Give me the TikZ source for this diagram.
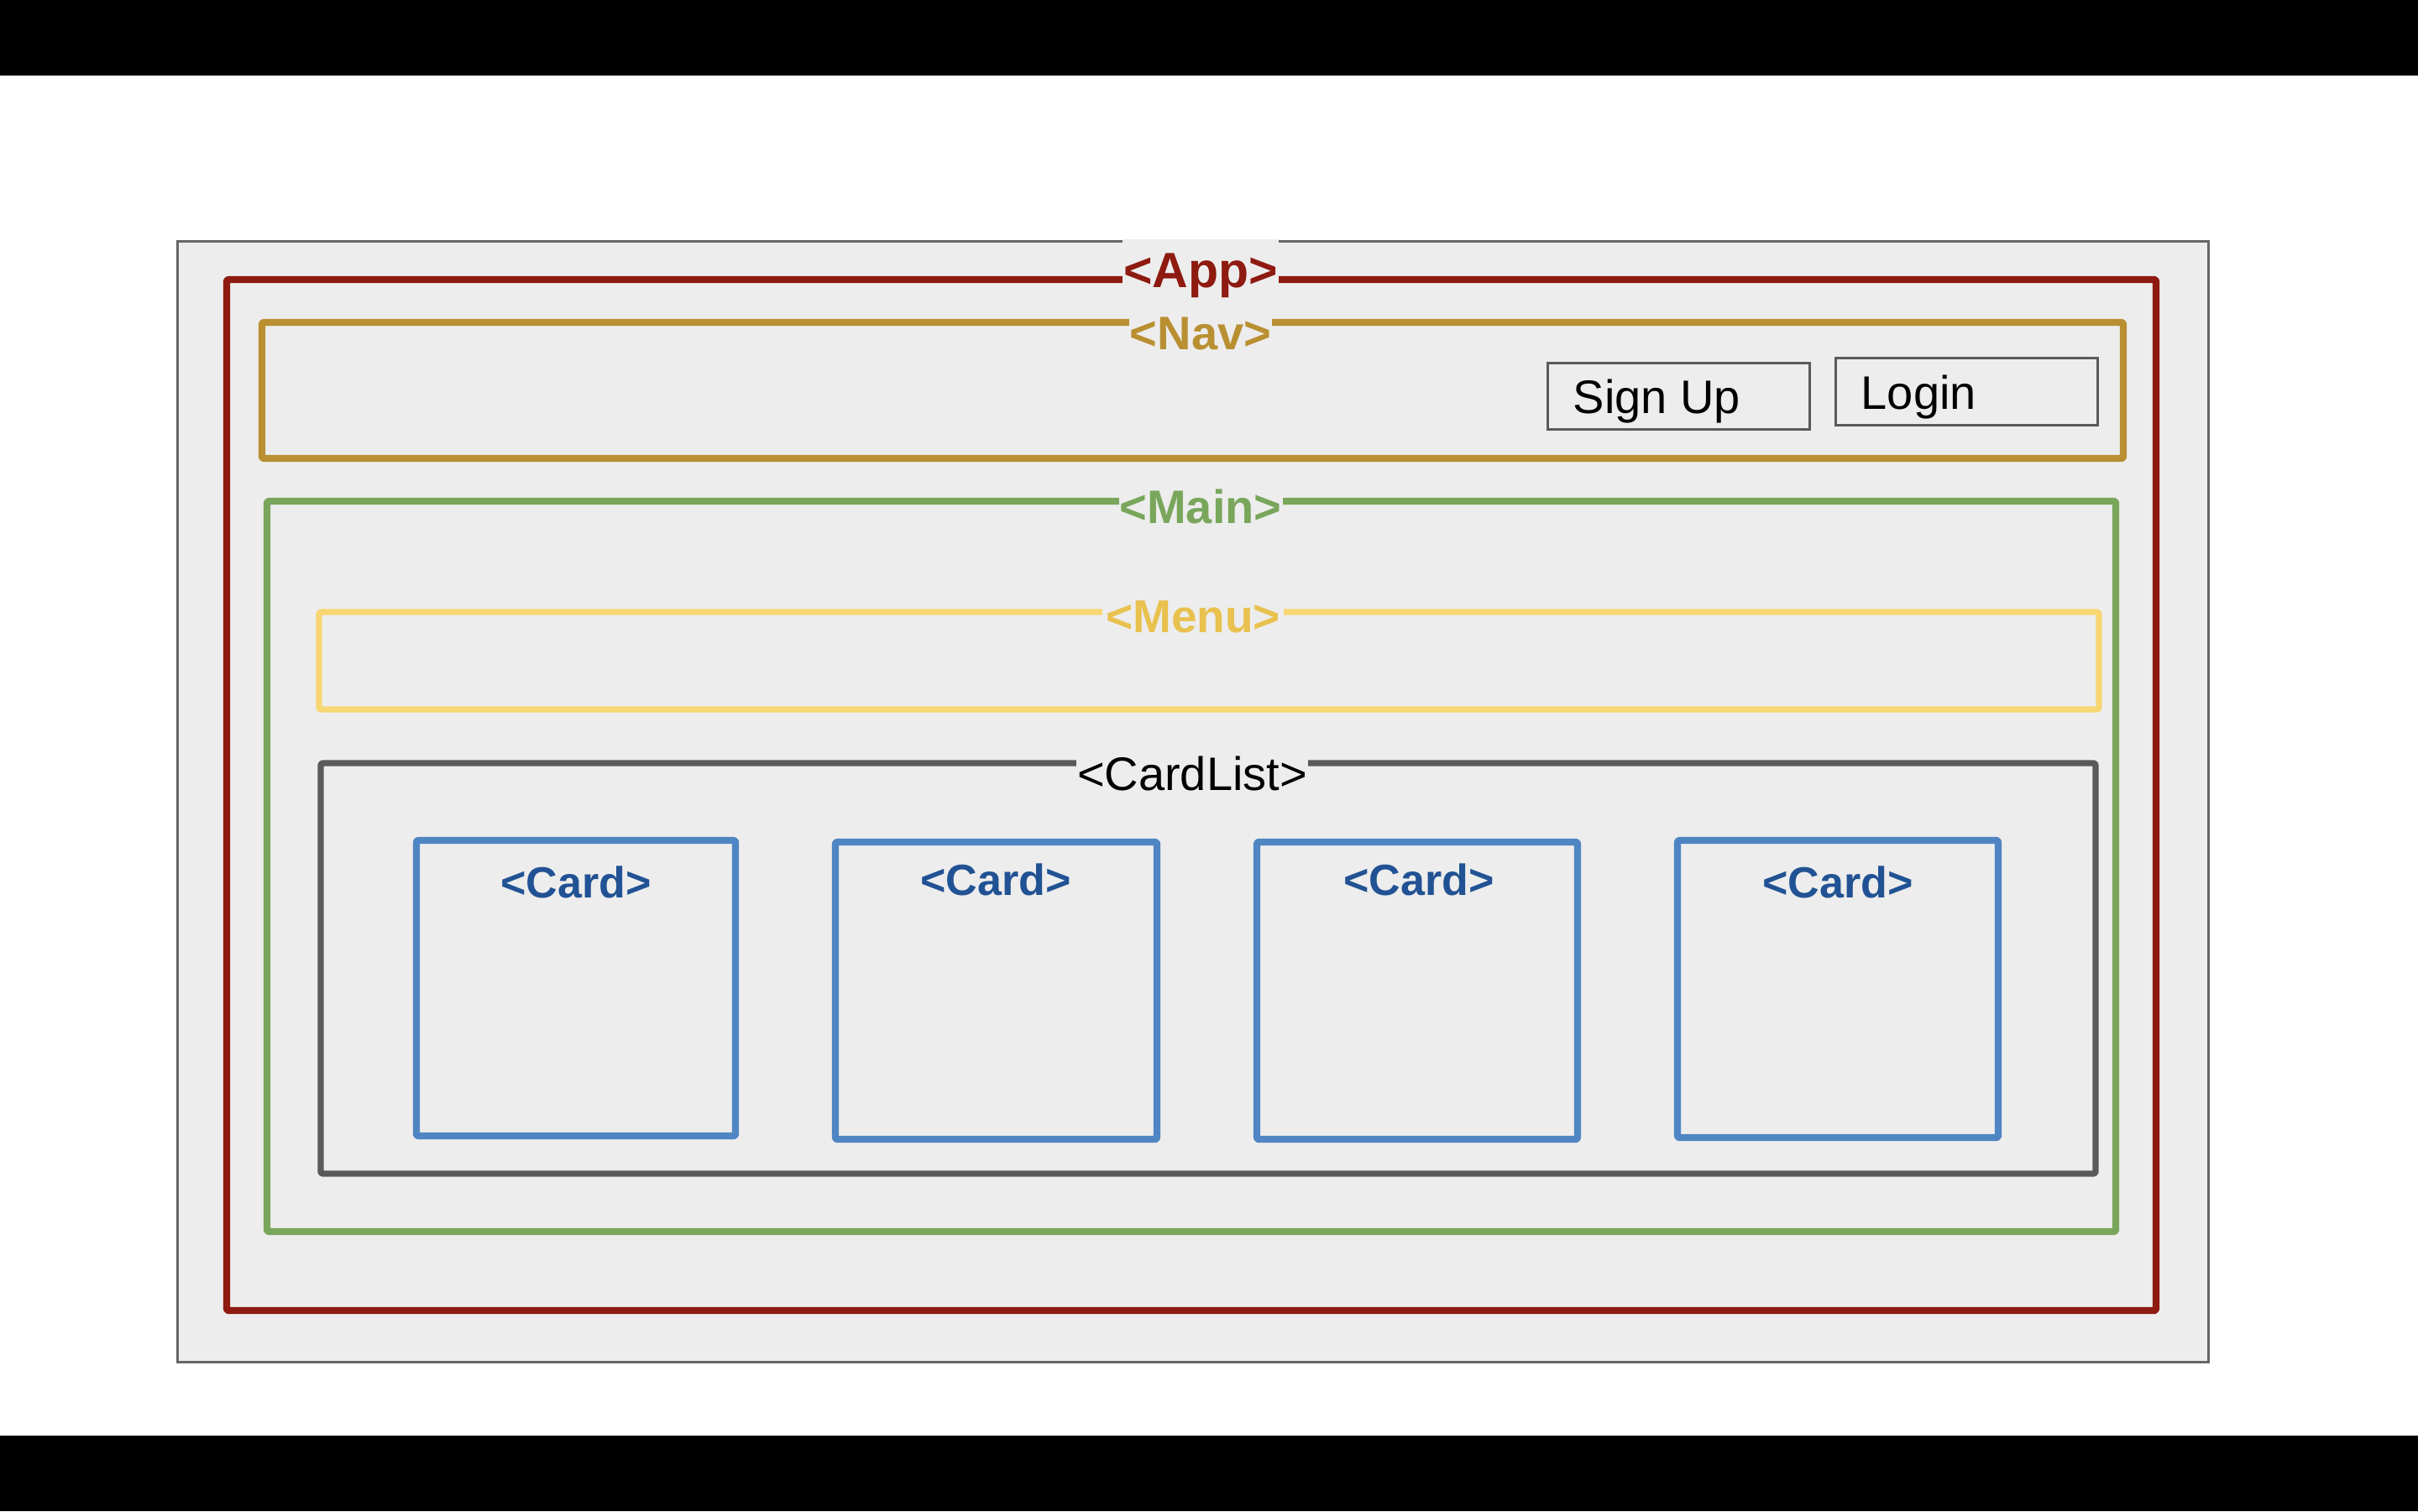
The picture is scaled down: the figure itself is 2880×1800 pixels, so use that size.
\documentclass[tikz,border=0pt]{standalone}
\usepackage{fontspec}
\setmainfont{Liberation Sans}
\definecolor{bgc}{HTML}{EDEDED}
\definecolor{outerc}{HTML}{666666}
\definecolor{appc}{HTML}{8E1A10}
\definecolor{navc}{HTML}{B98F31}
\definecolor{mainc}{HTML}{79A65A}
\definecolor{menuline}{HTML}{F8D672}
\definecolor{menutext}{HTML}{E9C14E}
\definecolor{listc}{HTML}{5A5A5A}
\definecolor{cardline}{HTML}{4F85C3}
\definecolor{cardtext}{HTML}{215294}
\tikzset{
  frame/.style={line width=2.1pt, line join=round, rounded corners=0.6pt},
  tag/.style={anchor=base, fill=bgc, inner xsep=0.25pt, font=\fontsize{14}{16}\selectfont\bfseries},
  cardbox/.style={draw=cardline, line width=2.1pt, line join=round, rounded corners=0.6pt},
  cardtag/.style={anchor=base, text=cardtext, inner sep=0pt, font=\fontsize{13}{15}\selectfont\bfseries},
  btn/.style={draw=listc, line width=0.75pt},
  btntext/.style={anchor=base west, inner sep=0pt, font=\fontsize{14}{16}\selectfont}
}
\begin{document}
\begin{tikzpicture}[x=0.25pt,y=-0.25pt]
\useasboundingbox (0,0) rectangle (2880,1800);
\fill[white] (0,0) rectangle (2880,1800);
\fill[black] (0,0) rectangle (2880,90);
\fill[black] (0,1710) rectangle (2880,1800);
% outer canvas
\filldraw[fill=bgc, draw=outerc, line width=0.75pt] (211,287) rectangle (2630,1622);
% App
\draw[frame, draw=appc] (270,333) rectangle (2568,1561);
% Nav
\draw[frame, draw=navc] (312,384) rectangle (2529,546);
% Main
\draw[frame, draw=mainc] (318,597) rectangle (2520,1467);
% Menu
\draw[frame, draw=menuline, line width=1.8pt] (380,729) rectangle (2500,845);
% CardList
\draw[frame, draw=listc, line width=1.8pt] (382,909) rectangle (2496,1398);
% Cards
\draw[cardbox] (496,1001) rectangle (876,1353);
\draw[cardbox] (995,1003) rectangle (1378,1357);
\draw[cardbox] (1497,1003) rectangle (1879,1357);
\draw[cardbox] (1998,1001) rectangle (2380,1355);
\node[cardtag] (card1) at (686,1069) {<Card>};
\node[cardtag] (card2) at (1186,1066) {<Card>};
\node[cardtag] (card3) at (1690,1066) {<Card>};
\node[cardtag] (card4) at (2189,1069) {<Card>};
% Buttons
\draw[btn] (1843,432) rectangle (2155,511);
\draw[btn] (2186,426) rectangle (2498,506);
\node[btntext] (signup) at (1873,492) {Sign Up};
\node[btntext] (login) at (2216,487) {Login};
% Labels
\node[tag, text=appc, inner ysep=4pt, font=\fontsize{14.75}{17}\selectfont\bfseries] (applabel) at (1430,342) {<App>};
\node[tag, text=navc] (navlabel) at (1430,416) {<Nav>};
\node[tag, text=mainc] (mainlabel) at (1430,623) {<Main>};
\node[tag, text=menutext, inner xsep=1pt, font=\fontsize{13.75}{16}\selectfont\bfseries] (menulabel) at (1421,753) {<Menu>};
\node[tag, text=black, font=\fontsize{14}{16}\selectfont] (cardlistlabel) at (1420,941) {<CardList>};
\end{tikzpicture}
\end{document}
